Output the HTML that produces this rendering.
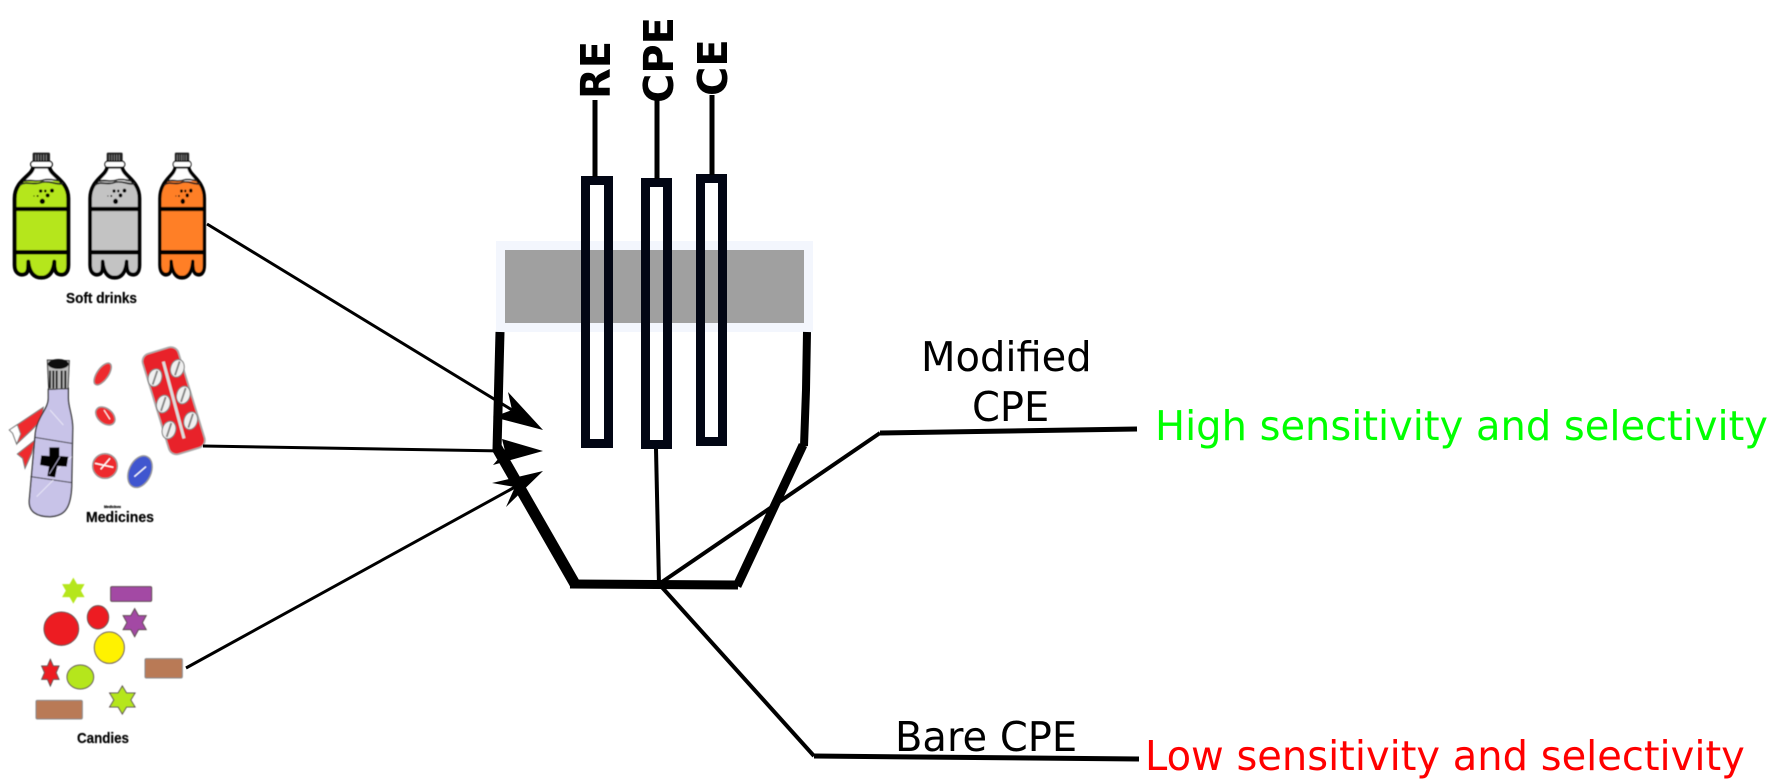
<!DOCTYPE html>
<html>
<head>
<meta charset="utf-8">
<style>
html,body{margin:0;padding:0;background:#fff;width:1777px;height:783px;overflow:hidden}
svg{display:block}
.d{font-family:"DejaVu Sans","Liberation Sans",sans-serif}
.b{font-family:"DejaVu Sans","Liberation Sans",sans-serif;font-weight:bold}
.s{font-family:"Liberation Sans",sans-serif;font-weight:bold;fill:#000;stroke:#000;stroke-width:.2}
</style>
</head>
<body>
<svg width="1777" height="783" viewBox="0 0 1777 783" xmlns="http://www.w3.org/2000/svg">
<defs>
<filter id="bl" x="-5%" y="-5%" width="110%" height="110%"><feGaussianBlur stdDeviation="0.5"/></filter>
<linearGradient id="gG" x1="0" y1="0" x2="0" y2="1"><stop offset=".13" stop-color="#fff"/><stop offset=".13" stop-color="#b5e61d"/></linearGradient>
<linearGradient id="gS" x1="0" y1="0" x2="0" y2="1"><stop offset=".13" stop-color="#fff"/><stop offset=".13" stop-color="#c3c3c3"/></linearGradient>
<linearGradient id="gO" x1="0" y1="0" x2="0" y2="1"><stop offset=".13" stop-color="#fff"/><stop offset=".13" stop-color="#ff7f27"/></linearGradient>
<g id="bt">
  <path d="M100,110 C98,138 44,150 44,205 L44,405 C44,430 60,436 72,433 C85,430 85,415 85,395 C88,425 100,443 124,443 C148,443 160,425 163,395 C163,415 165,430 178,433 C192,436 205,430 205,405 L205,205 C205,150 150,138 148,110 Z" stroke="#000" stroke-width="12" stroke-linejoin="round"/>
  <path d="M60,165 C80,152 100,167 124,157 C150,150 170,167 190,160 M70,154 C90,147 110,157 130,150 C150,145 165,152 178,152" fill="none" stroke="#222" stroke-width="5"/>
  <rect x="98" y="68" width="52" height="30" rx="4" fill="#222"/>
  <path d="M107,74V96M115,74V96M123,74V96M131,74V96M139,74V96" stroke="#999" stroke-width="2"/>
  <rect x="92" y="94" width="65" height="18" rx="9" fill="#fff" stroke="#000" stroke-width="4"/>
  <path d="M46,237H203M46,367H203" stroke="#000" stroke-width="13"/>
  <g fill="#000">
  <circle cx="127" cy="214" r="8"/><circle cx="143" cy="196" r="6"/><circle cx="122" cy="183" r="5"/><circle cx="156" cy="182" r="6"/><circle cx="136" cy="183" r="4"/><circle cx="113" cy="198" r="3"/><circle cx="102" cy="198" r="2"/>
  </g>
</g>
<polygon id="st" points="0,-1 .289,-.5 .866,-.5 .577,0 .866,.5 .289,.5 0,1 -.289,.5 -.866,.5 -.577,0 -.866,-.5 -.289,-.5" vector-effect="non-scaling-stroke"/>
</defs>

<!-- Soft drinks -->
<g filter="url(#bl)">
<g transform="translate(0,130) scale(.33333)">
  <use href="#bt" fill="url(#gG)"/>
  <g transform="translate(344,0) scale(.92,1) translate(-124,0)"><use href="#bt" fill="url(#gS)"/></g>
  <g transform="translate(546,0) scale(.83,1) translate(-124,0)"><use href="#bt" fill="url(#gO)"/></g>
</g>
<text class="s" x="66" y="303" font-size="14.500" textLength="71" lengthAdjust="spacingAndGlyphs">Soft drinks</text>
</g>

<!-- Medicines -->
<g filter="url(#bl)">
<g transform="translate(0,330) scale(.33333)">
  <polygon points="28,300 130,232 125,270 95,300 50,342 38,310" fill="#ee2a2d" stroke="#777" stroke-width="3"/>
  <polygon points="28,300 52,284 62,312 50,342 38,310" fill="#fff" stroke="#777" stroke-width="3"/>
  <polygon points="52,372 105,330 95,370 75,415 68,385" fill="#ee2a2d" stroke="#777" stroke-width="3"/>
  <path d="M145,178 L205,175 L205,205 C205,235 220,260 218,300 L215,470 C212,540 190,558 150,560 C110,560 85,545 88,510 L105,320 C108,260 145,240 145,205 Z" fill="#c8c3e8" stroke="#333" stroke-width="4"/>
  <path d="M105,322 L215,340 M92,440 L215,458" fill="none" stroke="#333" stroke-width="3"/>
  <path d="M150,240 L190,285 M110,500 L160,450 M170,420 L215,380" fill="none" stroke="#e8e6f6" stroke-width="3"/>
  <path d="M142,90 L208,92 L204,176 L146,178 Z" fill="#bbb" stroke="#333" stroke-width="3"/>
  <path d="M150,122V175M160,122V175M170,122V175M185,122V175M196,122V175" stroke="#222" stroke-width="6"/>
  <ellipse cx="175" cy="102" rx="31" ry="15" fill="#111"/>
  <path d="M148,352 L178,352 L178,378 L205,380 L200,410 L172,408 L165,442 L142,438 L147,410 L120,405 L124,376 L148,378 Z" fill="#000"/>
  <path d="M148,432 L180,380" stroke="#c8c3e8" stroke-width="2"/>
  <ellipse cx="308" cy="132" rx="17" ry="38" transform="rotate(35 308 132)" fill="#ee2a2d" stroke="#999" stroke-width="4"/>
  <ellipse cx="316" cy="258" rx="33" ry="22" transform="rotate(40 316 258)" fill="#ee2a2d" stroke="#999" stroke-width="4"/>
  <path d="M312,240 L330,268" stroke="#fff" stroke-width="3"/>
  <ellipse cx="315" cy="408" rx="37" ry="37" fill="#ee2a2d" stroke="#999" stroke-width="4"/>
  <path d="M302,418 L330,385 M285,400 L340,412" stroke="#fff" stroke-width="4"/>
  <ellipse cx="420" cy="425" rx="33" ry="50" transform="rotate(25 420 425)" fill="#3f56cf" stroke="#999" stroke-width="4"/>
  <path d="M403,440 L438,410" stroke="#fff" stroke-width="4"/>
  <rect x="465" y="55" width="112" height="315" rx="24" transform="rotate(-17 520 212)" fill="#e8232a" stroke="#aaa" stroke-width="5"/>
  <path d="M490,95 L552,325" stroke="#ddd" stroke-width="9"/>
  <g fill="#f0f0f0" stroke="#777" stroke-width="3">
    <ellipse cx="465" cy="143" rx="20" ry="27" transform="rotate(17 465 143)"/><ellipse cx="532" cy="115" rx="20" ry="27" transform="rotate(17 532 115)"/><ellipse cx="550" cy="195" rx="20" ry="27" transform="rotate(17 550 195)"/><ellipse cx="490" cy="222" rx="20" ry="27" transform="rotate(17 490 222)"/><ellipse cx="507" cy="300" rx="20" ry="27" transform="rotate(17 507 300)"/><ellipse cx="572" cy="272" rx="20" ry="27" transform="rotate(17 572 272)"/>
  </g>
  <path d="M458,164L472,122M525,136L539,94M543,216L557,174M483,243L497,201M500,321L514,279M565,293L579,251" stroke="#888" stroke-width="6"/>
</g>
<text class="s" x="104" y="508" font-size="3.500" textLength="17" lengthAdjust="spacingAndGlyphs">Medicines</text>
<text class="s" x="86" y="522" font-size="15" textLength="68" lengthAdjust="spacingAndGlyphs">Medicines</text>
</g>

<!-- Candies -->
<g filter="url(#bl)">
<g transform="translate(0,560) scale(.33333)" stroke="#5a4a4a">
  <use href="#st" transform="translate(220,92) scale(36)" fill="#b5e61d" stroke="#b5e61d" stroke-width="1"/>
  <rect x="332" y="80" width="123" height="44" rx="4" fill="#a349a4" stroke-width="3"/>
  <ellipse cx="184" cy="206" rx="52" ry="50" fill="#ed1c24" stroke-width="3"/>
  <ellipse cx="294" cy="172" rx="32" ry="35" fill="#ed1c24" stroke-width="3"/>
  <use href="#st" transform="translate(404,188) scale(40,42)" fill="#a349a4" stroke-width="1"/>
  <ellipse cx="328" cy="263" rx="45" ry="47" fill="#fff200" stroke-width="3"/>
  <rect x="435" y="296" width="112" height="58" rx="4" fill="#b97a57" stroke="#888" stroke-width="3"/>
  <use href="#st" transform="translate(151,338) scale(30,40)" fill="#ed1c24" stroke-width="1"/>
  <ellipse cx="241" cy="351" rx="40" ry="36" fill="#b5e61d" stroke-width="3"/>
  <use href="#st" transform="translate(367,420) scale(44,42)" fill="#b5e61d" stroke-width="1"/>
  <rect x="108" y="421" width="139" height="56" rx="4" fill="#b97a57" stroke="#888" stroke-width="3"/>
</g>
<text class="s" x="77" y="743" font-size="15" textLength="52" lengthAdjust="spacingAndGlyphs">Candies</text>
</g>

<!-- Vessel lid -->
<rect x="500.500" y="245.500" width="308" height="82" fill="#a0a0a0" stroke="#f3f6fd" stroke-width="9"/>

<!-- Electrodes -->
<g fill="none" stroke="#020614" stroke-width="9">
  <rect x="585.500" y="180.500" width="23" height="263"/>
  <rect x="645.500" y="182.500" width="22" height="262"/>
  <rect x="700.500" y="178.500" width="22" height="263"/>
</g>
<g stroke="#000" stroke-width="5" fill="none">
  <path d="M595,100V177"/>
  <path d="M657,100V179"/>
  <path d="M712,95V175"/>
</g>

<!-- Electrode labels -->
<text class="b" font-size="40" transform="translate(610,99) rotate(-90) scale(1,1.03)" fill="#000">RE</text>
<text class="b" font-size="40" transform="translate(673,103) rotate(-90) scale(1,1.03)" fill="#000">CPE</text>
<text class="b" font-size="40" transform="translate(727,96) rotate(-90) scale(1,1.03)" fill="#000">CE</text>

<!-- Arrows -->
<g stroke="#000" stroke-width="3" fill="none">
  <path d="M207,224 L512,410"/>
  <path d="M203,446 L505,451"/>
  <path d="M186,668 L515,487"/>
</g>
<g fill="#000">
  <polygon points="543,430 508,392 512,410 493,417"/>
  <polygon points="543,451 502,439 505,451 493,465"/>
  <polygon points="543,471 492,483 515,487 506,507"/>
</g>

<!-- Vessel body -->
<g fill="none" stroke="#000" stroke-linecap="butt">
  <path d="M500,332 L497,450" stroke-width="9"/>
  <path d="M497,448 L575,584" stroke-width="11"/>
  <path d="M570,584 L738,585" stroke-width="9"/>
  <path d="M807,332 L806,390 L804,446" stroke-width="8"/>
  <path d="M803,445 L737,586" stroke-width="9"/>
</g>

<!-- Leads -->
<g fill="none" stroke="#000">
  <path d="M656,449 L659,585" stroke-width="4"/>
  <path d="M659,584 L880,433" stroke-width="4"/>
  <path d="M880,433 L1137,429" stroke-width="5"/>
  <path d="M659,584 L814,756" stroke-width="4"/>
  <path d="M814,756 L1139,759" stroke-width="5"/>
</g>

<!-- Labels -->
<text class="d" font-size="40" transform="translate(921,371) scale(1,1.02)" fill="#000">Modified</text>
<text class="d" font-size="40" transform="translate(972,421) scale(1,1.02)" fill="#000">CPE</text>
<text class="d" font-size="40" transform="translate(895,751) scale(1,1.02)" fill="#000">Bare CPE</text>
<text class="d" font-size="40" transform="translate(1155,440) scale(1,1.02)" fill="#00ff00">High sensitivity and selectivity</text>
<text class="d" font-size="40" transform="translate(1145,770) scale(1,1.02)" fill="#ff0000">Low sensitivity and selectivity</text>
</svg>
</body>
</html>
